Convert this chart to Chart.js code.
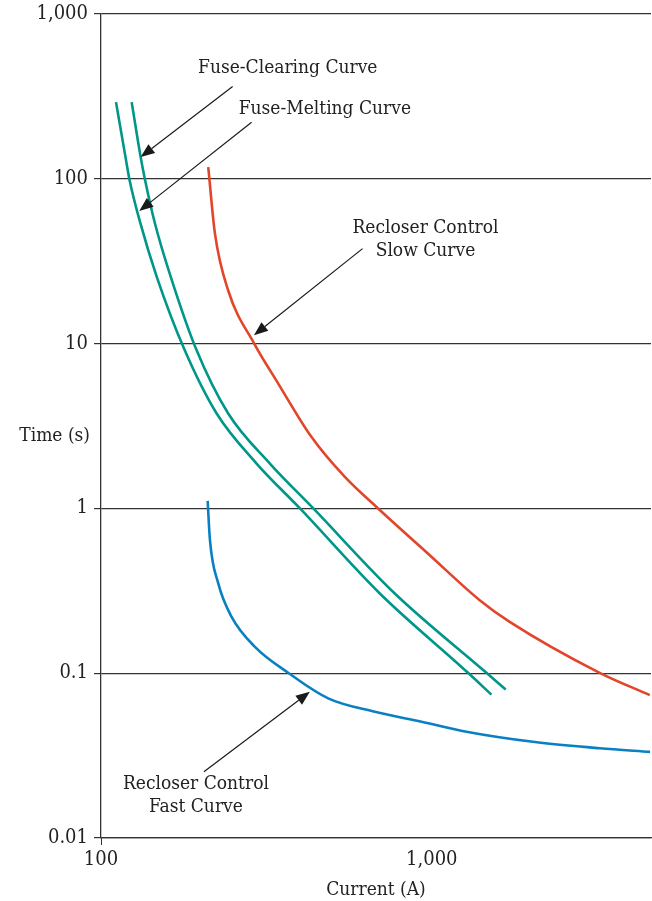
<!DOCTYPE html>
<html>
<head>
<meta charset="utf-8">
<script src="https://cdn.jsdelivr.net/npm/chart.js@4.4.0/dist/chart.umd.min.js"></script>
<style>
  html, body { margin: 0; padding: 0; background: #fff; }
  #wrap { width: 652px; height: 901px; }
</style>
</head>
<body>
<div id="wrap"><canvas id="myChart" width="652" height="901"></canvas></div>
<script>
// tick labels
const xTicks = [100, 1000];
const yTicks = [0.01, 0.1, 1, 10, 100, 1000];

// Fuse-melting curve (left teal)
const meltX = [111, 118.6, 121.9, 131.6, 147.6, 178.2, 223.7, 295.3, 399, 696.5, 1287, 1515];
const meltY = [290, 134.6, 98.6, 53.3, 25.1, 9.29, 3.75, 1.866, 1.0, 0.304, 0.1004, 0.074];

// Fuse-clearing curve (right teal)
const clearX = [123.8, 131.8, 135.8, 145.6, 162.7, 193.6, 242.4, 324, 437.8, 773, 1463, 1673];
const clearY = [290, 134.6, 98.6, 53.3, 25.1, 9.29, 3.75, 1.866, 1.0, 0.304, 0.1004, 0.0795];

// Recloser slow curve (red)
const slowX = [211, 221, 242.4, 290.5, 343.4, 433, 546, 687, 986, 1396, 1720, 3218, 4560];
const slowY = [117, 46.4, 20.9, 9.96, 5.70, 2.70, 1.548, 1.0, 0.519, 0.277, 0.2046, 0.1004, 0.0735];

// Recloser fast curve (blue)
const fastX = [210.1, 213.5, 226.2, 248.2, 292, 368, 486, 672.7, 931, 1273, 2023, 3218, 4570];
const fastY = [1.107, 0.64, 0.3497, 0.2194, 0.1443, 0.1004, 0.0703, 0.0583, 0.0507, 0.0441, 0.0383, 0.035, 0.0333];

// annotation arrows (data coords: from -> tip)
const arrows = [
    { from: [250, 361], to: [131.8, 134.6] },
    { from: [285.3, 219], to: [130.5, 63.4] },
    { from: [617.6, 37.5], to: [290, 11.2] },
    { from: [204.7, 0.0252], to: [428, 0.077] }
];
const notes = [
    { text: 'Fuse-Clearing Curve', at: [367, 464] },
    { text: 'Fuse-Melting Curve', at: [475, 263] },
    { text: 'Recloser Control', at: [957, 50.0] },
    { text: 'Slow Curve', at: [957, 36.1] },
    { text: 'Recloser Control', at: [193.6, 0.0213] },
    { text: 'Fast Curve', at: [193.6, 0.0154] }
];

const FONT = '"DejaVu Serif Condensed", "DejaVu Serif", serif';
const TXT = '#222';

function pts(xs, ys){
    return xs.map((x, i) => ({ x: x, y: ys[i] }));
}

function fmt(v){
    return v >= 1000 ? v.toLocaleString('en-US') : String(v);
}

const annotate = {
    id: 'annotate',
    afterDraw(chart){
        const ctx = chart.ctx;
        const xs = chart.scales.x, ys = chart.scales.y;
        ctx.save();
        ctx.strokeStyle = '#1a1a1a';
        ctx.fillStyle = '#1a1a1a';
        ctx.lineWidth = 1.2;
        arrows.forEach(a => {
            const x1 = xs.getPixelForValue(a.from[0]), y1 = ys.getPixelForValue(a.from[1]);
            const x2 = xs.getPixelForValue(a.to[0]), y2 = ys.getPixelForValue(a.to[1]);
            const ang = Math.atan2(y2 - y1, x2 - x1);
            const len = 14, half = 5.5;
            const bx = x2 - len * Math.cos(ang), by = y2 - len * Math.sin(ang);
            ctx.beginPath();
            ctx.moveTo(x1, y1);
            ctx.lineTo(bx, by);
            ctx.stroke();
            ctx.beginPath();
            ctx.moveTo(x2, y2);
            ctx.lineTo(bx + half * Math.sin(ang), by - half * Math.cos(ang));
            ctx.lineTo(bx - half * Math.sin(ang), by + half * Math.cos(ang));
            ctx.closePath();
            ctx.fill();
        });
        ctx.fillStyle = TXT;
        ctx.font = '19px ' + FONT;
        ctx.textAlign = 'center';
        ctx.textBaseline = 'middle';
        notes.forEach(n => {
            ctx.fillText(n.text, xs.getPixelForValue(n.at[0]), ys.getPixelForValue(n.at[1]));
        });
        // horizontal y-axis title
        ctx.textAlign = 'right';
        ctx.fillText('Time (s)', chart.chartArea.left - 11, ys.getPixelForValue(2.75));
        ctx.restore();
    }
};

const ctx = document.getElementById('myChart');

new Chart(ctx, {
    type: 'line',
    data: {
        datasets: [
            { label: 'Fuse-Melting Curve', data: pts(meltX, meltY), borderColor: '#00968a' },
            { label: 'Fuse-Clearing Curve', data: pts(clearX, clearY), borderColor: '#00968a' },
            { label: 'Recloser Control Slow Curve', data: pts(slowX, slowY), borderColor: '#e2462a' },
            { label: 'Recloser Control Fast Curve', data: pts(fastX, fastY), borderColor: '#0a80c4' }
        ]
    },
    options: {
        responsive: false,
        animation: false,
        layout: { padding: { top: 13, right: 1, left: 0, bottom: 0 } },
        elements: {
            point: { radius: 0 },
            line: { borderWidth: 2.6, cubicInterpolationMode: 'monotone', fill: false }
        },
        plugins: {
            legend: { display: false },
            tooltip: { enabled: false }
        },
        scales: {
            x: {
                type: 'logarithmic',
                min: 100,
                max: 4600,
                afterBuildTicks: s => { s.ticks = xTicks.map(v => ({ value: v })); },
                afterFit: s => { s.height = 63; },
                grid: {
                    drawOnChartArea: false,
                    tickLength: 7,
                    tickColor: c => c.index === 0 ? '#333' : 'rgba(0,0,0,0)'
                },
                border: { color: '#333', width: 1.3 },
                ticks: {
                    callback: v => fmt(v),
                    color: TXT,
                    font: { family: FONT, size: 20 },
                    padding: 3,
                    maxRotation: 0
                },
                title: {
                    display: true,
                    text: 'Current (A)',
                    color: TXT,
                    font: { family: FONT, size: 19 },
                    padding: { top: 1, bottom: 0 }
                }
            },
            y: {
                type: 'logarithmic',
                min: 0.01,
                max: 1000,
                afterBuildTicks: s => { s.ticks = yTicks.map(v => ({ value: v })); },
                afterFit: s => { s.width = 101; },
                grid: {
                    color: '#333',
                    lineWidth: 1.2,
                    tickLength: 7,
                    tickColor: '#333'
                },
                border: { color: '#333', width: 1.3 },
                ticks: {
                    callback: v => fmt(v),
                    color: TXT,
                    font: { family: FONT, size: 20, lineHeight: 0.75 },
                    padding: 6
                }
            }
        }
    },
    plugins: [annotate]
});
</script>
</body>
</html>
